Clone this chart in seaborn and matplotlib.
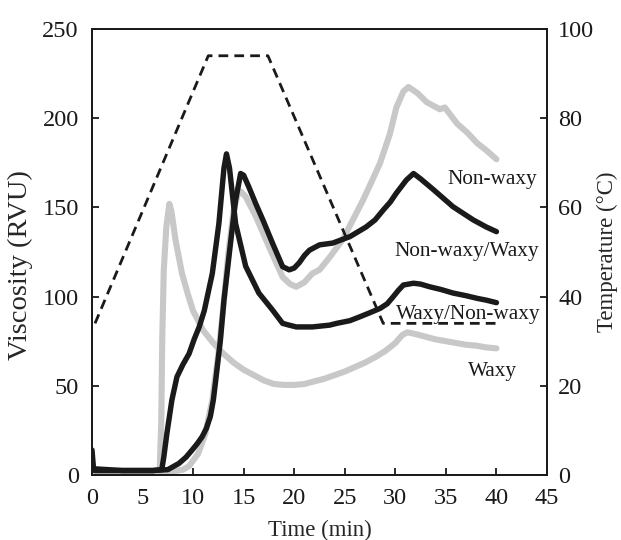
import numpy as np
import pandas as pd
import matplotlib
matplotlib.use("Agg")
import matplotlib.pyplot as plt
import seaborn as sns

# ---------------- data ----------------
t_nonwaxy = [0, 0.3, 3, 6, 8, 9, 9.6, 10.5, 11.2, 11.9, 12.5, 13.0, 13.5, 14.0, 14.4, 14.7,
             15.2, 16.2, 17.5, 18.85, 19.6, 20.2, 21.0, 21.8, 22.5, 23.5, 24.8, 25.8, 26.8,
             27.7, 28.5, 29.45, 30.1, 30.8, 31.3, 32.2, 33.1, 34.4, 34.9, 35.3, 36.1, 37.1,
             38.1, 39.0, 40]
v_nonwaxy = [3, 2, 1.5, 1.5, 2, 3, 5, 12, 23, 42, 68, 95, 125, 148, 157, 159,
             156, 145, 128, 111, 107, 105.5, 108, 113, 115, 122, 132, 143, 154,
             165, 175, 191, 206, 215, 217.5, 214, 209, 205, 206, 203, 197, 192,
             186, 182, 177]

t_waxy = [0, 0.15, 3, 6, 6.7, 6.85, 6.95, 7.1, 7.35, 7.65, 7.85, 8.25, 8.9, 9.5, 10, 11, 12,
          13, 14, 15, 16, 17, 18, 19, 20, 21, 22, 23, 24, 25, 26, 27, 28, 29, 30, 30.7,
          31.2, 32, 33, 34, 35, 36, 37, 38, 39, 40]
v_waxy = [8, 1.5, 1, 1, 3, 30, 77, 115, 139, 152, 148, 132, 113, 101, 92, 81, 74,
          68, 63, 59, 56, 53, 51, 50.5, 50.5, 51, 52.5, 54, 56, 58, 60.5, 63, 66, 69.5, 74, 78.5,
          80, 79, 77.5, 76, 75, 74, 73, 72.5, 71.5, 71]

t_waxy_nonwaxy = [0, 0.15, 3, 6, 6.9, 7.1, 7.4, 7.9, 8.4, 9.0, 9.6, 10.1, 10.6, 11.1, 11.9,
                  12.55, 13.05, 13.3, 13.6, 14.2, 15.2, 16.5, 17.85, 18.85, 19.5, 20.2, 21.8,
                  23.5, 24.2, 25.5, 26.5, 27.5, 28.5, 29.2, 29.8, 30.3, 30.8, 31.8, 32.5, 33.4,
                  34.5, 35.7, 37, 38.1, 39, 40]
v_waxy_nonwaxy = [14, 3.5, 2.5, 2.5, 3, 10, 23, 42, 55, 62, 68, 76, 83, 92, 113,
                  141, 172, 180, 172, 141, 117, 102, 92.5, 85, 84, 83, 83,
                  84, 85, 86.5, 88.7, 91, 93.4, 96, 100, 103.5, 106.5, 107.5, 107, 105.5,
                  104, 102, 100.5, 99, 98, 96.6]

t_nonwaxy_waxy = [0, 0.3, 3, 6, 7.5, 8.6, 9.3, 9.9, 10.4, 10.9, 11.3, 11.7, 12.0, 12.2, 12.7,
                  13.05, 13.7, 14.2, 14.7, 15.0, 15.5, 16.2, 16.9, 17.85, 18.85, 19.5, 20.0,
                  20.5, 21.0, 21.5, 22.5, 23.8, 25.5, 27.1, 28.0, 28.8, 29.5, 30.1, 31.1, 31.8,
                  32.5, 33.8, 35.7, 37.7, 39, 40]
v_nonwaxy_waxy = [3, 2.5, 2.5, 2.5, 3, 6.5, 10, 14, 17.5, 21.5, 26, 32.7, 42, 51.4, 75.7,
                  98, 130, 154, 169, 168, 161.6, 152, 143, 130, 116.8, 115, 116,
                  119, 123, 126, 129, 130, 133.6, 139, 143, 148.5, 153, 158, 165.4, 169,
                  166, 159.8, 150.4, 143, 139, 136.4]

t_temp = [0.3, 11.5, 17.4, 28.8, 40]
temp = [34, 94, 94, 34, 34]

labels = ["Non-waxy", "Non-waxy/Waxy", "Waxy/Non-waxy", "Waxy"]
label_pos_t = [39.6, 37.1, 37.2, 39.6]
label_pos_v = [165.4, 125.2, 89.7, 57.9]

x_ticks = list(range(0, 50, 5))
y_ticks = list(range(0, 300, 50))
t2_ticks = list(range(0, 120, 20))

# ---------------- style ----------------
sns.set_style("ticks")
plt.rcParams['font.family'] = ['Liberation Serif', 'DejaVu Serif']
plt.rcParams['axes.linewidth'] = 1.3
plt.rcParams['axes.edgecolor'] = '#1a1a1a'

fig = plt.figure(figsize=(6.21, 5.40), dpi=100)
ax = fig.add_axes([92/621, 1-475/540, (547-92)/621, (475-29)/540])

gray = '#c8c8c8'
black = '#1a1a1a'

series = [
    (t_nonwaxy, v_nonwaxy, gray, 4.4),
    (t_waxy, v_waxy, gray, 4.4),
    (t_waxy_nonwaxy, v_waxy_nonwaxy, black, 3.9),
    (t_nonwaxy_waxy, v_nonwaxy_waxy, black, 3.9),
]
for tt, vv, c, lw in series:
    df = pd.DataFrame({"t": tt, "v": vv})
    sns.lineplot(data=df, x="t", y="v", ax=ax, color=c, lw=lw, sort=False,
                 solid_capstyle='round', solid_joinstyle='round', estimator=None)

ax.set_xlim(0, 45)
ax.set_ylim(0, 250)
ax.set_xticks(x_ticks)
ax.set_yticks(y_ticks)
ax.set_xlabel("Time (min)", fontsize=16.5, labelpad=8)
ax.set_ylabel("Viscosity (RVU)", fontsize=20.5)
ax.yaxis.set_label_coords((33-92)/455, (475-265)/446)
ax.tick_params(axis='both', direction='in', length=5, width=1.3, labelsize=17.5,
               color=black, labelcolor=black)
ax.tick_params(axis='y', pad=9.5)
ax.tick_params(axis='x', pad=9.5, top=False)

for lab, xt, yv in zip(labels, label_pos_t, label_pos_v):
    ax.text(xt, yv, lab, fontsize=15.3, ha='center', va='center', color=black)

ax2 = ax.twinx()
dft = pd.DataFrame({"t": t_temp, "T": temp})
sns.lineplot(data=dft, x="t", y="T", ax=ax2, color=black, lw=2.0, sort=False,
             estimator=None)
ax2.lines[0].set_dashes([3.5, 2.2])
ax2.set_ylim(0, 100)
ax2.set_yticks(t2_ticks)
ax2.set_ylabel("Temperature (°C)", fontsize=16.5, labelpad=2)
ax2.tick_params(axis='y', direction='in', length=5, width=1.3, labelsize=17.5,
                pad=8, color=black, labelcolor=black)
ax2.set_xlim(0, 45)

fig.savefig("out.png", dpi=100)
